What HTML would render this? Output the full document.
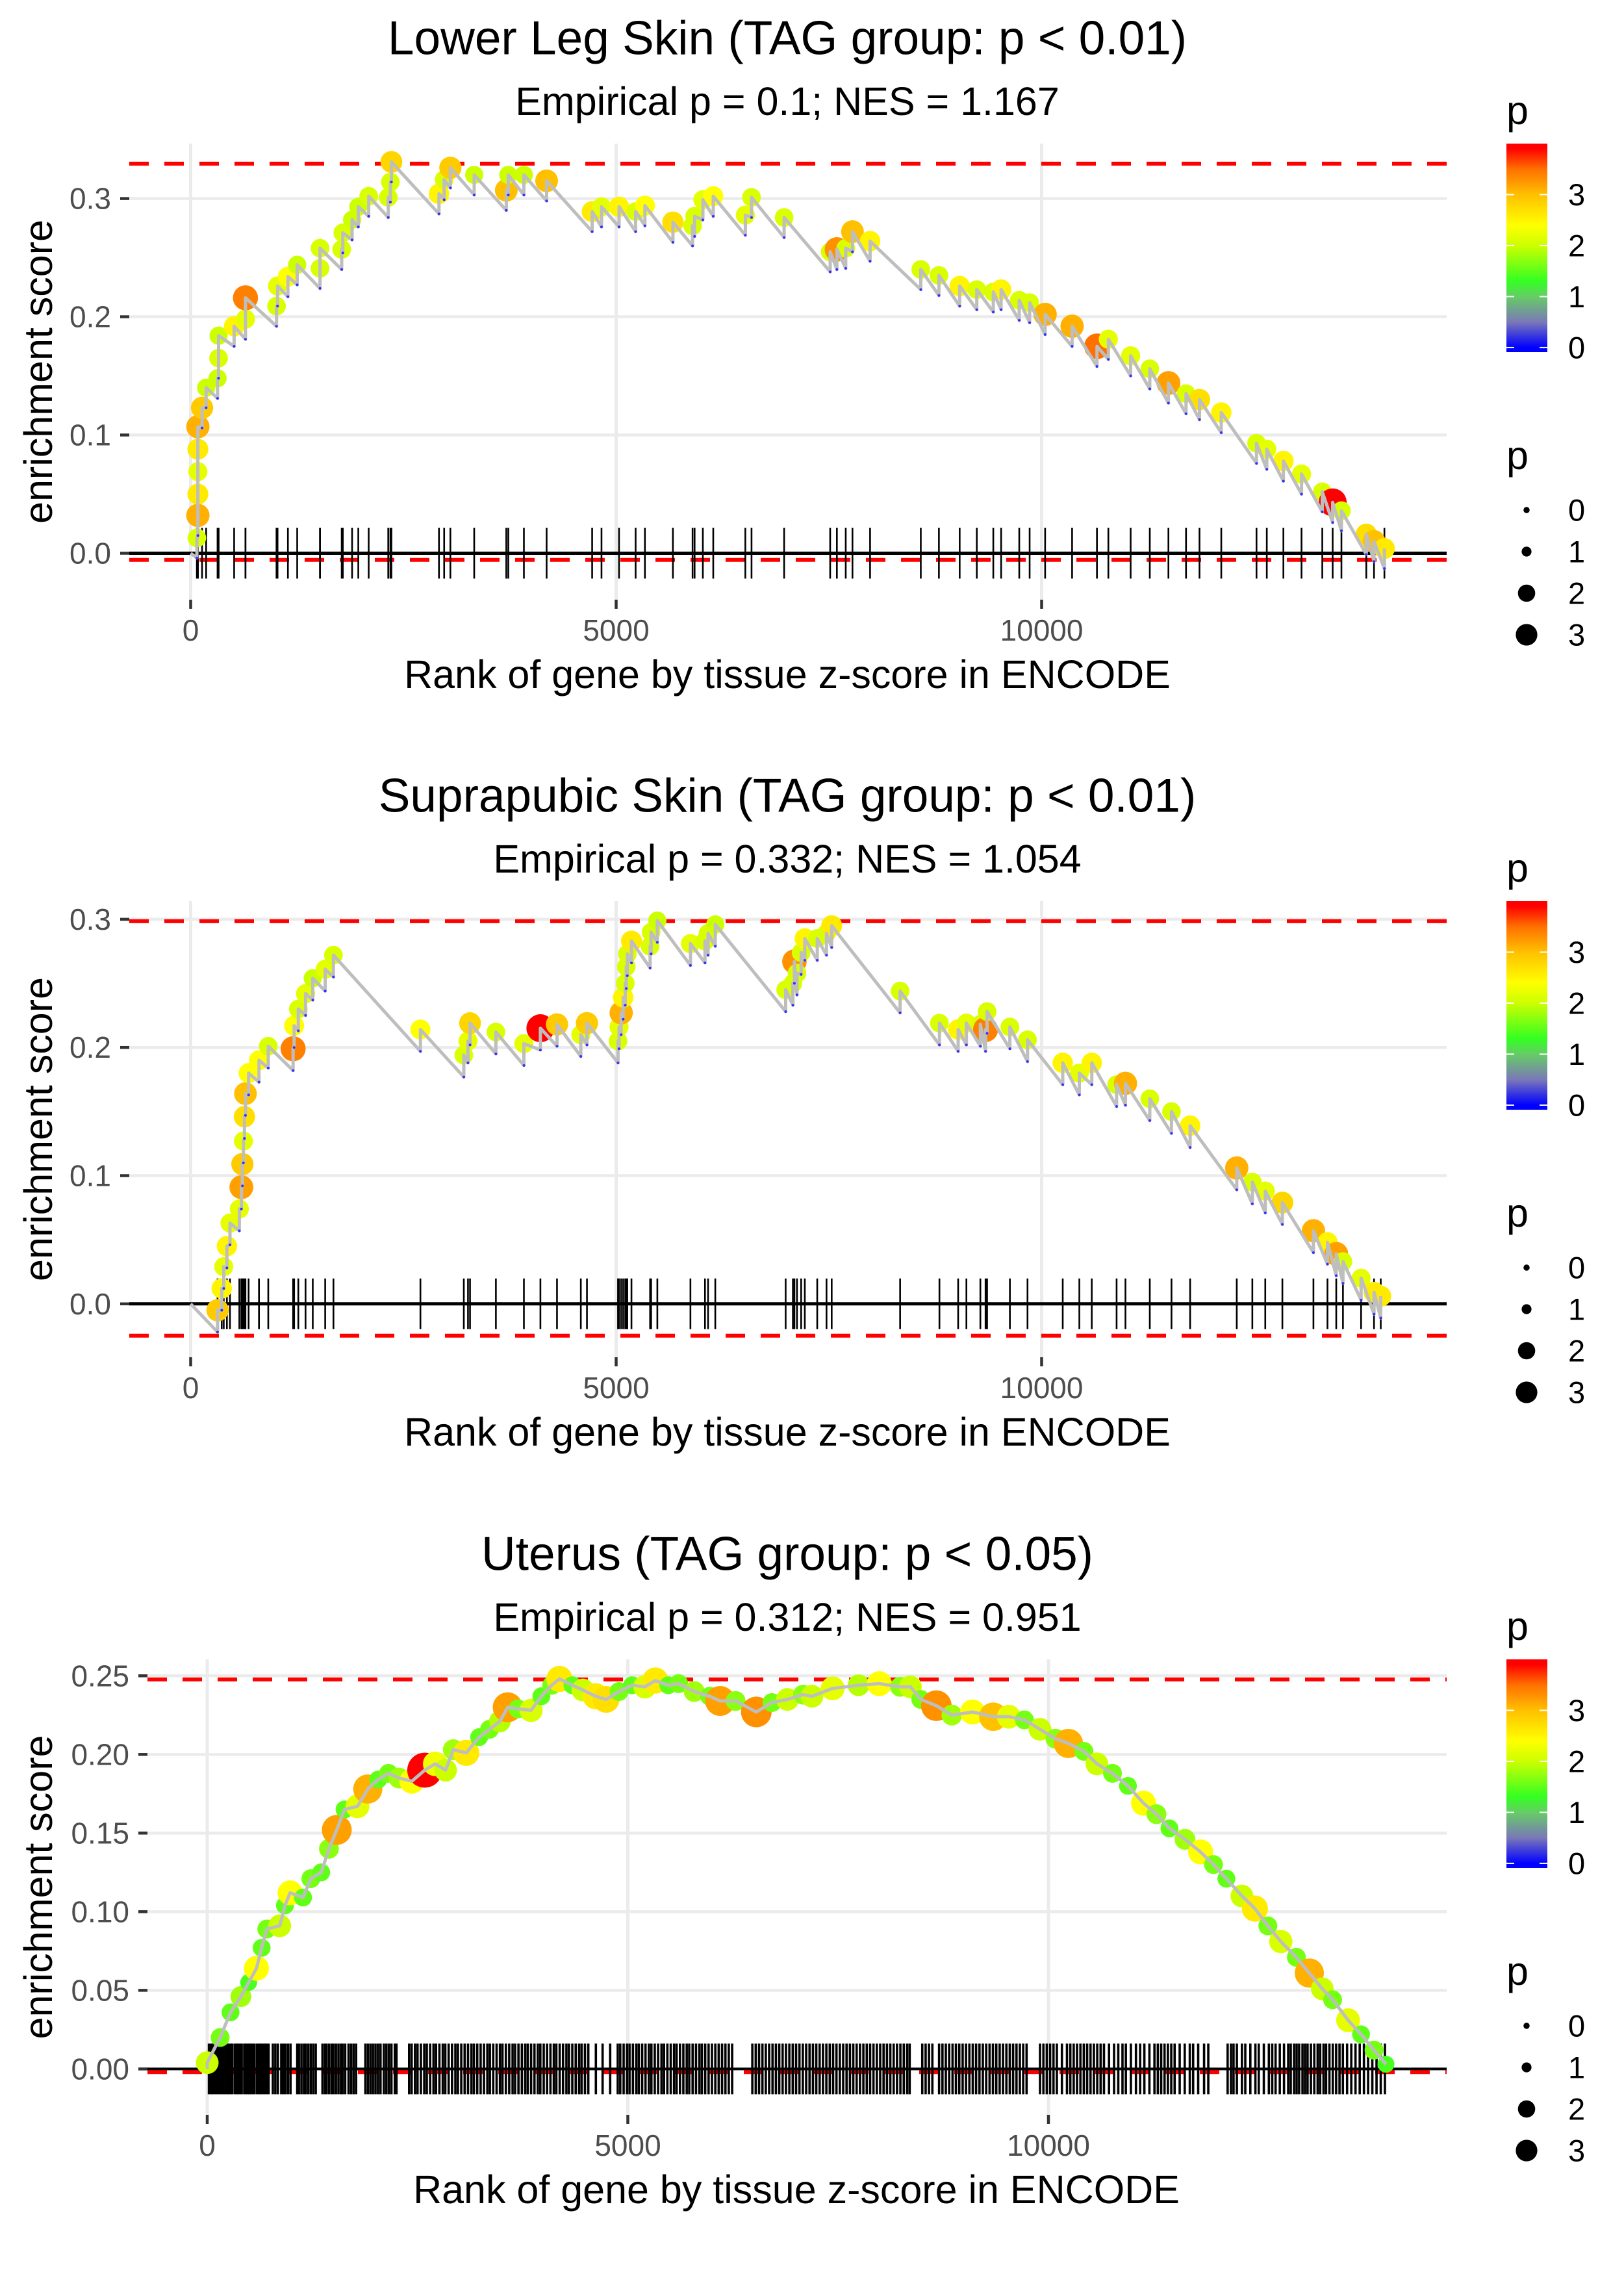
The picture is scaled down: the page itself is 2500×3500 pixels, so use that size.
<!DOCTYPE html>
<html><head><meta charset="utf-8"><title>Enrichment plots</title>
<style>
html,body{margin:0;padding:0;background:#fff;}
svg{display:block;font-family:"Liberation Sans",Arial,sans-serif;}
</style></head>
<body>
<svg id="chart" xmlns="http://www.w3.org/2000/svg" width="2500" height="3500" viewBox="0 0 2500 3500">
<defs>
<linearGradient id="pgrad" x1="0" y1="1" x2="0" y2="0">
<stop offset="0.022" stop-color="#0000ff"/>
<stop offset="0.144" stop-color="#7a78b8"/>
<stop offset="0.266" stop-color="#66cc66"/>
<stop offset="0.34" stop-color="#33ff22"/>
<stop offset="0.511" stop-color="#ccff00"/>
<stop offset="0.609" stop-color="#ffff00"/>
<stop offset="0.755" stop-color="#ffc000"/>
<stop offset="0.878" stop-color="#ff7000"/>
<stop offset="0.976" stop-color="#ff0000"/>
</linearGradient>
</defs>
<rect x="0" y="0" width="2500" height="3500" fill="#fff"/>
</svg>
<script>
// ---------------- Panel 1 data: Lower Leg Skin ----------------
const p1Rank = [73,85,85,85,85,85,134,182,316,328,328,511,644,644,1009,1021,1143,1252,1520,1520,1775,1788,1897,1970,2092,2322,2347,2359,2918,2979,3052,3332,3709,3733,3916,4183,4718,4828,5034,5229,5338,5667,5898,5922,6019,6141,6518,6591,6974,7515,7594,7698,7777,7984,8580,8793,9037,9238,9432,9524,9737,9859,10041,10358,10650,10784,11046,11271,11490,11697,11855,12111,12525,12646,12841,13054,13298,13420,13523,13815,13906,14028];
const p1ES = [0.013,0.032,0.050,0.069,0.088,0.107,0.123,0.140,0.148,0.165,0.184,0.192,0.198,0.216,0.209,0.226,0.234,0.244,0.241,0.258,0.257,0.271,0.282,0.293,0.302,0.301,0.314,0.331,0.304,0.316,0.326,0.320,0.307,0.320,0.320,0.315,0.289,0.293,0.293,0.289,0.294,0.280,0.277,0.285,0.299,0.302,0.286,0.301,0.284,0.255,0.257,0.258,0.272,0.264,0.240,0.235,0.226,0.223,0.221,0.223,0.214,0.212,0.202,0.192,0.175,0.181,0.167,0.156,0.144,0.135,0.130,0.119,0.093,0.088,0.078,0.067,0.052,0.043,0.036,0.016,0.010,0.004];
const p1P = [2.1,3.1,2.6,2.2,2.6,3.1,2.9,2.0,2.0,2.1,2.0,2.5,2.2,3.4,2.1,2.2,2.4,2.0,2.1,2.1,2.1,2.1,2.0,2.0,2.1,2.1,2.1,2.8,2.5,2.1,2.9,2.0,3.0,2.0,2.0,3.0,2.6,2.2,2.5,2.1,2.4,2.7,2.1,2.1,2.2,2.4,2.2,2.1,2.1,2.1,3.3,2.1,3.0,2.5,2.1,2.1,2.5,2.1,2.1,2.5,2.1,2.1,3.1,3.1,3.5,2.2,2.2,2.1,3.2,2.1,2.7,2.5,2.1,2.2,2.5,2.2,2.1,3.9,2.1,2.7,3.0,2.6];
const p1Bounds = [0.3295,-0.0056];
const p1YTicks = [0,0.1,0.2,0.3];
const p1YLabels = ["0.0","0.1","0.2","0.3"];

// ---------------- Panel 2 data: Suprapubic Skin ----------------
const p2Rank = [316,365,389,426,462,572,596,608,620,632,644,681,803,912,1204,1216,1265,1350,1435,1581,1678,2700,3210,3259,3283,3587,3916,4110,4305,4585,4657,5022,5034,5059,5083,5107,5119,5131,5180,5399,5411,5484,5873,6044,6080,6165,6992,7077,7095,7125,7174,7217,7363,7472,7533,8337,8799,9019,9116,9280,9341,9359,9627,9834,10248,10443,10589,10881,10985,11271,11526,11745,12293,12476,12628,12829,13194,13359,13462,13541,13754,13906,13985];
const p2ES = [-0.005,0.012,0.029,0.045,0.063,0.074,0.091,0.109,0.127,0.146,0.164,0.180,0.190,0.201,0.199,0.217,0.230,0.242,0.254,0.261,0.272,0.214,0.194,0.205,0.219,0.212,0.203,0.215,0.218,0.210,0.219,0.205,0.216,0.227,0.239,0.250,0.263,0.273,0.283,0.279,0.290,0.299,0.281,0.283,0.289,0.296,0.245,0.250,0.267,0.258,0.274,0.285,0.285,0.289,0.295,0.244,0.219,0.214,0.219,0.218,0.214,0.228,0.216,0.206,0.188,0.180,0.188,0.171,0.172,0.160,0.150,0.139,0.106,0.095,0.088,0.079,0.057,0.048,0.039,0.033,0.020,0.009,0.006];
const p2P = [2.9,2.5,2.2,2.5,2.2,2.2,3.2,2.9,2.2,2.7,3.0,2.4,2.4,2.1,3.4,2.4,2.1,2.2,2.0,2.2,2.1,2.4,2.1,2.2,2.8,2.1,2.2,3.9,2.9,2.2,2.9,2.1,2.2,3.1,2.5,2.1,2.1,2.1,2.6,2.1,2.1,2.0,2.2,2.1,2.1,2.0,2.1,2.1,3.3,2.1,2.1,2.5,2.1,2.1,2.6,2.1,2.1,2.5,2.2,2.1,3.4,2.1,2.1,2.1,2.5,2.2,2.5,2.1,3.1,2.1,2.1,2.5,3.1,2.1,2.2,2.8,3.1,2.5,3.2,2.1,2.2,2.6,2.6];
const p2Bounds = [0.2985,-0.0248];
const p2YTicks = [0,0.1,0.2,0.3];
const p2YLabels = ["0.0","0.1","0.2","0.3"];

// ---------------- Panel 3 data: Uterus ----------------
const p3Rank = [0,154,277,400,493,585,647,708,862,924,985,1139,1232,1355,1447,1540,1632,1786,1909,2032,2155,2279,2433,2586,2709,2833,2925,3079,3233,3356,3479,3572,3695,3849,3972,4095,4187,4341,4465,4618,4742,4895,5050,5203,5327,5481,5604,5789,5973,6097,6281,6527,6712,6897,7082,7189,7435,7743,7990,8236,8359,8482,8667,8852,9098,9344,9529,9714,9899,10083,10237,10422,10576,10761,10945,11130,11284,11438,11623,11808,11962,12115,12300,12454,12608,12762,12947,13101,13255,13378,13562,13716,13870,14012];
const p3ES = [0.004,0.020,0.036,0.046,0.055,0.064,0.077,0.089,0.091,0.104,0.112,0.109,0.121,0.125,0.140,0.152,0.165,0.167,0.178,0.184,0.188,0.185,0.183,0.190,0.194,0.190,0.203,0.201,0.211,0.216,0.221,0.230,0.229,0.228,0.237,0.244,0.248,0.244,0.241,0.237,0.235,0.240,0.244,0.243,0.247,0.244,0.245,0.240,0.237,0.234,0.234,0.227,0.233,0.235,0.238,0.237,0.242,0.244,0.245,0.243,0.243,0.235,0.231,0.225,0.227,0.224,0.224,0.222,0.216,0.210,0.207,0.202,0.194,0.188,0.180,0.169,0.162,0.153,0.146,0.138,0.130,0.121,0.110,0.102,0.091,0.081,0.071,0.061,0.051,0.044,0.031,0.022,0.012,0.003];
const p3P = [2.0,1.6,1.5,1.8,1.4,2.4,1.5,1.6,2.0,1.5,2.4,1.5,1.6,1.5,1.7,3.2,1.5,2.2,3.1,1.5,1.6,1.8,2.4,3.9,2.3,2.0,1.8,2.6,1.5,1.6,1.9,3.2,1.6,2.1,1.5,1.6,2.6,1.5,2.0,2.6,2.7,1.6,1.5,2.1,2.6,1.5,1.6,1.8,1.6,3.2,1.7,3.3,1.6,2.0,1.7,2.0,2.2,1.9,2.4,1.7,2.0,1.6,3.3,1.8,2.4,3.0,2.2,1.6,2.0,1.7,3.1,1.6,2.0,1.6,1.5,2.4,1.7,1.5,1.8,2.4,1.6,1.5,2.0,2.6,1.6,2.1,1.6,3.1,2.0,1.6,2.2,1.5,1.6,1.4];
const p3Bar = [20,45,60,85,110,130,150,175,190,215,240,255,280,300,330,350,365,390,410,440,460,480,500,515,540,560,590,610,630,650,670,690,710,730,780,810,840,880,905,930,960,990,1070,1090,1120,1150,1170,1200,1230,1260,1290,1370,1400,1420,1450,1480,1500,1530,1560,1590,1610,1640,1680,1710,1740,1770,1880,1910,1940,1970,2000,2030,2060,2100,2130,2160,2190,2230,2250,2400,2430,2470,2500,2540,2580,2610,2650,2690,2720,2760,2800,2830,2870,2910,2950,2980,3020,3060,3100,3140,3170,3210,3250,3290,3330,3360,3400,3440,3480,3510,3550,3590,3630,3660,3700,3740,3780,3810,3850,3890,3930,3960,4000,4040,4080,4120,4150,4190,4230,4270,4300,4340,4380,4420,4450,4490,4530,4620,4700,4790,4880,4910,4950,4990,5020,5060,5100,5130,5170,5210,5250,5280,5320,5360,5400,5430,5470,5510,5550,5580,5620,5660,5700,5730,5770,5810,5850,5880,5920,5960,6000,6040,6080,6120,6160,6200,6240,6480,6520,6560,6600,6640,6680,6720,6760,6800,6840,6880,6920,6960,7000,7040,7080,7120,7160,7200,7240,7280,7320,7360,7400,7440,7480,7520,7560,7600,7640,7680,7720,7760,7800,7840,7880,7920,7960,8000,8040,8080,8120,8160,8200,8240,8280,8320,8350,8500,8540,8580,8620,8700,8740,8780,8820,8860,8900,8940,8980,9020,9060,9100,9140,9180,9220,9260,9300,9340,9380,9420,9460,9500,9540,9580,9620,9660,9700,9740,9900,9940,9980,10020,10060,10100,10160,10220,10260,10300,10340,10380,10420,10460,10500,10540,10580,10620,10660,10720,10780,10830,10880,10920,10980,11040,11090,11140,11200,11260,11300,11340,11380,11420,11460,11500,11560,11620,11680,11720,11780,11850,11900,12130,12170,12200,12240,12300,12340,12400,12460,12500,12560,12620,12660,12700,12750,12800,12850,12880,12920,12950,12980,13020,13050,13080,13120,13160,13200,13230,13270,13300,13340,13380,13420,13460,13500,13550,13600,13650,13700,13750,13800,13850,13900,13950,14000];
const p3Bounds = [0.2477,-0.002];
const p3YTicks = [0,0.05,0.10,0.15,0.20,0.25];
const p3YLabels = ["0.00","0.05","0.10","0.15","0.20","0.25"];

// shared
const xTicks = [0,5000,10000];
const xTickLabels = ["0","5000","10000"];
const legendValues = [0,1,2,3];
const legendLabels = ["0","1","2","3"];
const titles = ["Lower Leg Skin (TAG group: p < 0.01)","Suprapubic Skin (TAG group: p < 0.01)","Uterus (TAG group: p < 0.05)"];
const subtitles = ["Empirical p = 0.1; NES = 1.167","Empirical p = 0.332; NES = 1.054","Empirical p = 0.312; NES = 0.951"];

const NS = "http://www.w3.org/2000/svg";
const svg = document.getElementById("chart");
function mk(tag, attrs, parent){
  const e = document.createElementNS(NS, tag);
  for (const k in attrs) e.setAttribute(k, attrs[k]);
  (parent||svg).appendChild(e);
  return e;
}
const colStops = [[0,[0,0,255]],[0.5,[122,120,184]],[1,[102,204,102]],[1.3,[51,255,34]],[2,[204,255,0]],[2.4,[255,255,0]],[3,[255,192,0]],[3.5,[255,112,0]],[3.9,[255,0,0]]];
function pColor(p){
  if (p <= colStops[0][0]) return "rgb(0,0,255)";
  for (let i=1;i<colStops.length;i++){
    if (p <= colStops[i][0]){
      const a=colStops[i-1], b=colStops[i], t=(p-a[0])/(b[0]-a[0]);
      const c=a[1].map((v,j)=>Math.round(v+(b[1][j]-v)*t));
      return "rgb("+c.join(",")+")";
    }
  }
  return "rgb(255,0,0)";
}
const rStops = [[0,5],[1,8],[2,14],[3,17.5],[4,22]];
function pRadius(p){
  for (let i=1;i<rStops.length;i++){
    if (p <= rStops[i][0]){
      const a=rStops[i-1], b=rStops[i];
      return a[1]+(b[1]-a[1])*(p-a[0])/(b[0]-a[0]);
    }
  }
  return 22;
}

const panels = [
  {rank:p1Rank, es:p1ES, p:p1P, bounds:p1Bounds, yt:p1YTicks, yl:p1YLabels, x0:293.5, xs:0.131, y0:851.5, ys:1819.7, left:199, right:2227, top:221, bottom:923, jump:0.017, rscale:1, step:true, bar:p1Rank, barW:2.6, zeroW:5, xtc:1212},
  {rank:p2Rank, es:p2ES, p:p2P, bounds:p2Bounds, yt:p2YTicks, yl:p2YLabels, x0:293.5, xs:0.131, y0:2006.8, ys:1973, left:199, right:2227, top:1387, bottom:2089, jump:0.017, rscale:1, step:true, bar:p2Rank, barW:2.6, zeroW:5, xtc:1212},
  {rank:p3Rank, es:p3ES, p:p3P, bounds:p3Bounds, yt:p3YTicks, yl:p3YLabels, x0:319, xs:0.1295, y0:3184.4, ys:2420.4, left:227, right:2227, top:2554, bottom:3255, jump:0, rscale:1.25, step:false, bar:p3Bar, barW:3.6, zeroW:4, xtc:1226}
];

panels.forEach((P, idx) => {
  const g = mk("g", {});
  
  
  const X = r => P.x0 + r*P.xs;
  const Y = v => P.y0 - v*P.ys;

  const t = mk("text", {x:1212, y:P.top-162, "font-size":73, "text-anchor":"middle", "dominant-baseline":"central", fill:"#000"}, g);
  t.textContent = titles[idx];
  
  
  const st = mk("text", {x:1212, y:P.top-65, "font-size":61, "text-anchor":"middle", "dominant-baseline":"central", fill:"#000"}, g);
  st.textContent = subtitles[idx];
  
  

  P.yt.forEach(v => {
    const l = mk("line", {x1:P.left, x2:P.right, y1:Y(v), y2:Y(v), stroke:"#ebebeb", "stroke-width":4.5}, g);
    
    
  });
  xTicks.forEach(v => {
    const l = mk("line", {x1:X(v), x2:X(v), y1:P.top, y2:P.bottom, stroke:"#ebebeb", "stroke-width":5}, g);
    
    
  });

  P.yt.forEach((v,i) => {
    const tk = mk("line", {x1:P.left-14, x2:P.left, y1:Y(v), y2:Y(v), stroke:"#333", "stroke-width":4.5}, g);
    
    
    const lb = mk("text", {x:P.left-28, y:Y(v), "font-size":46, "text-anchor":"end", "dominant-baseline":"central", fill:"#4d4d4d"}, g);
    lb.textContent = P.yl[i];
    
    
  });
  xTicks.forEach((v,i) => {
    const tk = mk("line", {x1:X(v), x2:X(v), y1:P.bottom, y2:P.bottom+14, stroke:"#333", "stroke-width":4.5}, g);
    
    
    const lb = mk("text", {x:X(v), y:P.bottom+47, "font-size":46, "text-anchor":"middle", "dominant-baseline":"central", fill:"#4d4d4d"}, g);
    lb.textContent = xTickLabels[i];
    
    
  });
  const xt = mk("text", {x:P.xtc, y:P.bottom+136, "font-size":61, "text-anchor":"middle", fill:"#000"}, g);
  xt.textContent = "Rank of gene by tissue z-score in ENCODE";
  
  
  const ym = (P.top+P.bottom)/2;
  const yt = mk("text", {x:0, y:0, "font-size":61, "text-anchor":"middle", "dominant-baseline":"central", fill:"#000", transform:"translate(59,"+ym+") rotate(-90)"}, g);
  yt.textContent = "enrichment score";
  
  

  P.bounds.forEach(v => {
    const l = mk("line", {x1:P.left, x2:P.right, y1:Y(v), y2:Y(v), stroke:"#ff0000", "stroke-width":6, "stroke-dasharray":"30 24"}, g);
    
    
  });

  P.bar.forEach(r => {
    const l = mk("line", {x1:X(r), x2:X(r), y1:Y(0)-39, y2:Y(0)+39, stroke:"#000", "stroke-width":P.barW}, g);
    
    
  });
  const zl = mk("line", {x1:P.left, x2:P.right, y1:Y(0), y2:Y(0), stroke:"#000", "stroke-width":P.zeroW}, g);
  
  

  P.rank.forEach((r,i) => {
    const c = mk("circle", {cx:X(r), cy:Y(P.es[i]), r:pRadius(P.p[i])*P.rscale, fill:pColor(P.p[i])}, g);
    
    
  });

  let pts = [[X(0),Y(0)]];
  const lows = [];
  let prevR = 0;
  P.rank.forEach((r,i) => {
    if (P.step && r !== prevR) {
      pts.push([X(r), Y(P.es[i]-P.jump)]);
      lows.push([X(r), Y(P.es[i]-P.jump)]);
    }
    pts.push([X(r), Y(P.es[i])]);
    prevR = r;
  });
  const pl = mk("polyline", {points:pts.map(p=>p[0].toFixed(1)+","+p[1].toFixed(1)).join(" "), fill:"none", stroke:"#bebebe", "stroke-width":5, "stroke-linejoin":"round"}, g);
  
  
  lows.forEach(p => {
    const c = mk("circle", {cx:p[0], cy:p[1], r:2, fill:"#3030ff"}, g);
    
    
  });

  const lg = mk("g", {}, g);
  
  
  const lt = mk("text", {x:2319, y:P.top-51, "font-size":61, "dominant-baseline":"central", fill:"#000"}, lg);
  lt.textContent = "p";
  
  
  const bar = mk("rect", {x:2319, y:P.top, width:63, height:321, fill:"url(#pgrad)"}, lg);
  
  
  const cbY = v => P.top + 321 - (v+0.09)/4.09*321;
  legendValues.forEach((v,i) => {
    const a = mk("line", {x1:2319, x2:2331, y1:cbY(v), y2:cbY(v), stroke:"#fff", "stroke-width":2}, lg);
    
    
    const b = mk("line", {x1:2370, x2:2382, y1:cbY(v), y2:cbY(v), stroke:"#fff", "stroke-width":2}, lg);
    
    
    const tl = mk("text", {x:2414, y:cbY(v), "font-size":47, "dominant-baseline":"central", fill:"#000"}, lg);
    tl.textContent = legendLabels[i];
    
    
  });
  const sg = mk("g", {}, g);
  
  
  const stt = mk("text", {x:2319, y:P.top+480, "font-size":61, "dominant-baseline":"central", fill:"#000"}, sg);
  stt.textContent = "p";
  
  
  legendValues.forEach((v,i) => {
    const yy = P.top + 564 + i*64;
    const c = mk("circle", {cx:2350, cy:yy, r:pRadius(v)*0.95, fill:"#000"}, sg);
    
    
    const tl = mk("text", {x:2414, y:yy, "font-size":47, "dominant-baseline":"central", fill:"#000"}, sg);
    tl.textContent = legendLabels[i];
    
    
  });
});
</script>
</body></html>
